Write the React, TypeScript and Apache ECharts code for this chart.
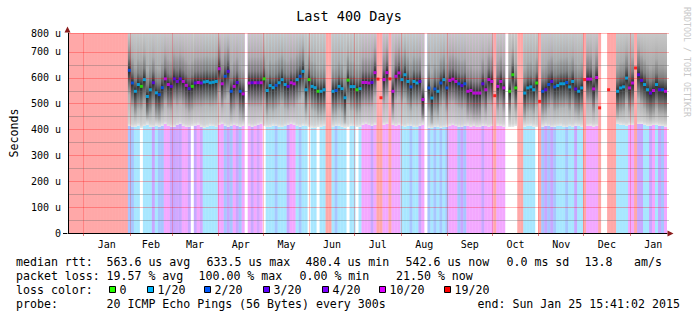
import React, { useEffect, useRef } from 'react';
import * as echarts from 'echarts';

const FONT = '"DejaVu Sans Mono", monospace';

const TITLE = 'Last 400 Days';
const Y_NAME = 'Seconds';
const CREDIT = 'RRDTOOL / TOBI OETIKER';
const RANGE_DAYS = 400;
const START_UTC = Date.UTC(2013, 11, 21, 15, 41, 2);
const MONTH_NAMES = ['Jan', 'Feb', 'Mar', 'Apr', 'May', 'Jun', 'Jul', 'Aug', 'Sep', 'Oct', 'Nov', 'Dec', 'Jan'];

const Y_MAX = 772;
const Y_TICKS = [0, 100, 200, 300, 400, 500, 600, 700, 772];
const Y_TICK_LABELS = ['0', '100 u', '200 u', '300 u', '400 u', '500 u', '600 u', '700 u', '800 u'];
const Y_MINOR = [50, 150, 250, 350, 450, 550, 650];

// loss class per 2-day bucket: g=0, c=1/20, b=2/20, v=3/20, p=4/20, m=10/20, r=19/20, _=no data
const LOSS_CLASS = (
  'rrrrrrrrrrrrrrrrrrrr' +
  'bbccgcccvc' + 'bbmmvvpvmm' + 'vgvmpccccc' + 'mmbvbmvbm_' +
  'mvmpmgcccb' + 'cccvmmcbcc' + 'gccgccrrcb' + 'cccgccgcmm' +
  'mvmrrmmrmm' + 'mcccbccvm_' + 'bcbcbcbmmm' + 'bvbmmmmmvm' +
  'mmrmmm_ggg' + 'rrccccgrbv' + 'bvbcccbccv' + 'ccrmmmmr__' +
  'rrrccccmmr' + 'vvccvmcvbm'
).split('');

// median rtt per bucket (microseconds)
const MEDIAN: (number | null)[] = [
  null, null, null, null, null, null, null, null, null, null,
  null, null, null, null, null, null, null, null, null, null,
  628, 579, 547, 573, 566, 592, 527, 553, 580, 541,
  534, 561, 595, 573, 566, 595, 585, 595, 585, 570,
  557, 566, 579, 581, 579, 583, 585, 580, 582, 585,
  634, 576, 605, 624, 547, 566, 581, 547, 537, null,
  579, 580, 580, 580, 580, 595, 550, 569, 561, 570,
  580, 592, 573, 566, 580, 576, 592, 605, 624, 553,
  592, 566, 561, 547, 547, 553, null, null, 547, 550,
  566, 557, 522, 590, 565, 565, 553, 557, 581, 581,
  579, 581, 619, 594, 522, 592, 619, 595, 547, 605,
  618, 592, 611, 585, 564, 585, 579, 585, 515, null,
  560, 521, 556, 547, 579, 592, 560, 589, 594, 585,
  576, 569, 576, 547, 550, 540, 540, 540, 576, 553,
  592, 585, 530, 566, 585, 560, null, 547, 611, 560,
  null, null, 540, 560, 564, 553, 579, 508, 547, 553,
  573, 585, 564, 569, 576, 576, 581, 564, 585, 556,
  547, 560, 592, 594, 594, 556, 600, 483, null, null,
  553, null, null, 547, 560, 564, 598, 560, 579, 637,
  611, 589, 573, 553, 540, 550, 573, 553, 553, 547,
];

// lower edge of the smoke per bucket (microseconds)
const SMOKE_LOW: (number | null)[] = [
  null, null, null, null, null, null, null, null, null, null,
  null, null, null, null, null, null, null, null, null, null,
  412, 408, 410, 415, 405, 412, 418, 410, 408, 414,
  410, 415, 420, 412, 408, 410, 416, 420, 414, 410,
  408, 412, 415, 418, 410, 406, 410, 414, 412, 408,
  418, 420, 415, 410, 412, 416, 414, 410, 412, null,
  414, 410, 412, 416, 420, 412, 408, 410, 414, 412,
  410, 408, 412, 416, 420, 418, 412, 410, 415, 412,
  410, 406, 404, 408, 410, 412, null, null, 408, 412,
  414, 410, 406, 410, 414, 412, 408, 410, 418, 420,
  416, 412, 418, null, null, 418, 420, null, 416, 414,
  418, 412, 410, 414, 412, 410, 408, 414, 416, null,
  406, 404, 408, 410, 406, 408, 410, 414, 416, 412,
  410, 408, 412, 414, 410, 412, 408, 410, 414, 412,
  410, 412, null, 414, 412, 410, null, 408, 410, 412,
  null, null, 410, 412, 414, 410, 408, null, 410, 414,
  412, 408, 410, 412, 414, 410, 408, 412, 410, 414,
  412, 410, null, 412, 414, 410, 412, null, null, null,
  null, null, null, 420, 418, 416, 414, 418, 416, null,
  420, 422, 418, 414, 412, 416, 418, 414, 412, 410,
];

const LOSS_KEYS = ['g', 'c', 'b', 'v', 'p', 'm', 'r'];
const LOSS_COLORS = ['#26ff00', '#00b8ff', '#0059ff', '#5e00ff', '#7e00ff', '#dd00ff', '#ff0000'];
const LOSS_LABELS = ['0', '1/20', '2/20', '3/20', '4/20', '10/20', '19/20'];

const RTT_LABEL = 'median rtt:';
const RTT_STATS = ['563.6 us avg', '633.5 us max', '480.4 us min', '542.6 us now', '0.0 ms sd', '13.8', 'am/s'];
const LOSS_LABEL = 'packet loss:';
const LOSS_STATS = ['19.57 % avg', '100.00 % max', '0.00 % min', '21.50 % now'];
const COLOR_LABEL = 'loss color:';
const PROBE_LABEL = 'probe:';
const PROBE_TEXT = '20 ICMP Echo Pings (56 Bytes) every 300s';
const END_TEXT = 'end: Sun Jan 25 15:41:02 2015';

const DAY_MS = 86400000;
const monthStart = (k: number) => (Date.UTC(2014, k, 1) - START_UTC) / DAY_MS;
const MONTH_STARTS = MONTH_NAMES.map((_, k) => monthStart(k));
const MONTH_MIDS = MONTH_NAMES.map((_, k) => (monthStart(k) + monthStart(k + 1)) / 2);

function rgba(hex: string, a: number) {
  const n = parseInt(hex.slice(1), 16);
  return `rgba(${(n >> 16) & 255},${(n >> 8) & 255},${n & 255},${a})`;
}
const colorOf = (c: string) => LOSS_COLORS[LOSS_KEYS.indexOf(c)];

function gridLineSeries(values: number[], color: string) {
  return {
    type: 'custom', xAxisIndex: 0, yAxisIndex: 0, silent: true, z: 4, clip: false,
    data: values.map((v) => [0, v]),
    renderItem: (params: any, api: any) => {
      const cs = params.coordSys;
      const y = Math.round(api.coord([0, api.value(1)])[1]) + 0.5;
      return {
        type: 'line', silent: true,
        shape: { x1: cs.x, y1: y, x2: cs.x + cs.width + 2, y2: y },
        style: { stroke: color, lineWidth: 1, fill: null },
      };
    },
  };
}

function buildOption() {
  const cats = LOSS_CLASS.map((_, i) => String(i));

  const bgData = LOSS_CLASS.map((c) => {
    if (c === '_' || c === 'g') return null;
    return { value: Y_MAX, itemStyle: { color: rgba(colorOf(c), 0.34) } };
  });

  const off = (v: number) => Math.min(1, Math.max(0, (Y_MAX - v) / Y_MAX));
  const smokeData = SMOKE_LOW.map((low, i) => {
    const med = MEDIAN[i];
    if (low == null || med == null) return null;
    const rel: [number, string][] = [
      [med + 100, '#ababab'], [med + 45, '#7e7e7e'], [med + 16, '#4a4a4a'], [med, '#282828'],
      [med - 20, '#464646'], [med - 55, '#7a7a7a'], [med - 95, '#b2b2b2'],
    ];
    const pts: [number, string][] = [[Y_MAX, '#c8c8c8']];
    rel.forEach((p) => { if (p[0] < Y_MAX && p[0] > low + 14) pts.push(p); });
    pts.push([low + 12, '#d3d3d3'], [low, '#e8e8e8']);
    const stops = pts.map(([v, c]) => ({ offset: off(v), color: c }));
    stops.sort((a, b) => a.offset - b.offset);
    stops.push({ offset: Math.min(1, off(low) + 0.0005), color: 'rgba(255,255,255,0)' });
    stops.push({ offset: 1, color: 'rgba(255,255,255,0)' });
    return { value: Y_MAX, itemStyle: { color: new echarts.graphic.LinearGradient(0, 0, 0, 1, stops) } };
  });

  const medianData = MEDIAN.map((m, i) =>
    m == null ? null : { value: [i, m], itemStyle: { color: colorOf(LOSS_CLASS[i]) } }
  ).filter(Boolean);

  const legendX = [109, 147, 204, 263, 322, 379, 444];
  const textStyle = (text: string, x: number, y: number, extra: any = {}) => ({
    type: 'text', x, y, silent: true,
    style: { text, fill: '#000', fontFamily: FONT, fontSize: 11.6, verticalAlign: 'middle', align: 'left', ...extra },
  });

  const rowY = [261.5, 275.5, 289.5, 303.5];
  const graphics: any[] = [
    { type: 'text', x: 349, y: 16, silent: true, style: { text: TITLE, fill: '#000', fontFamily: FONT, fontSize: 13.5, align: 'center', verticalAlign: 'middle' } },
    { type: 'text', x: 686.5, y: 62, rotation: -Math.PI / 2, silent: true, style: { text: CREDIT, fill: '#c8c8c8', fontFamily: FONT, fontSize: 8.3, align: 'center', verticalAlign: 'middle' } },
    { type: 'line', silent: true, z: 10, shape: { x1: 63, y1: 233.5, x2: 67, y2: 233.5 }, style: { stroke: '#000', lineWidth: 1 } },
    { type: 'polygon', silent: true, z: 10, shape: { points: [[64.5, 32.5], [67.5, 26.5], [70.5, 32.5]] }, style: { fill: '#8b1c1c' } },
    { type: 'polygon', silent: true, z: 10, shape: { points: [[667.5, 230.5], [673.5, 233.5], [667.5, 236.5]] }, style: { fill: '#8b1c1c' } },
    textStyle(RTT_LABEL, 16, rowY[0]),
    textStyle(LOSS_LABEL, 16, rowY[1]),
    textStyle(COLOR_LABEL, 16, rowY[2]),
    textStyle(PROBE_LABEL, 16, rowY[3]),
    textStyle(PROBE_TEXT, 106.5, rowY[3]),
    textStyle(END_TEXT, 477.5, rowY[3]),
  ];
  const rttX = [106.5, 206.5, 305.5, 405.5, 506.5, 584.5, 634];
  RTT_STATS.forEach((t, k) => graphics.push(textStyle(t, rttX[k], rowY[0])));
  const lossX = [106.5, 198.5, 299.5, 396];
  LOSS_STATS.forEach((t, k) => graphics.push(textStyle(t, lossX[k], rowY[1])));
  LOSS_LABELS.forEach((t, k) => {
    graphics.push({
      type: 'rect', silent: true,
      shape: { x: legendX[k] + 0.5, y: rowY[2] - 3, width: 6, height: 6 },
      style: { fill: LOSS_COLORS[k], stroke: '#000', lineWidth: 1 },
    });
    graphics.push(textStyle(t, legendX[k] + 10.5, rowY[2]));
  });

  return {
    animation: false,
    backgroundColor: '#fff',
    grid: { left: 67, top: 33, width: 600, height: 200, containLabel: false },
    xAxis: [
      {
        type: 'category', data: cats, position: 'top', show: false, boundaryGap: true,
      },
      {
        type: 'value', min: 0, max: RANGE_DAYS, position: 'bottom', z: 5,
        axisLine: { show: true, onZero: false, lineStyle: { color: '#000', width: 1 } },
        axisTick: { show: true, customValues: MONTH_STARTS, length: 3, lineStyle: { color: 'rgba(200,0,0,0.5)' } },
        axisLabel: {
          customValues: MONTH_MIDS, margin: 6, color: '#000', fontFamily: FONT, fontSize: 10,
          formatter: (v: number) => {
            const k = MONTH_MIDS.findIndex((m) => Math.abs(m - v) < 0.01);
            return k >= 0 ? MONTH_NAMES[k] : '';
          },
        },
        splitLine: { show: true, lineStyle: { color: 'rgba(255,0,0,0.22)', width: 1 } },
      },
    ],
    yAxis: [
      {
        type: 'value', min: 0, max: Y_MAX, z: 5,
        name: Y_NAME, nameLocation: 'middle', nameRotate: 90, nameGap: 47,
        nameTextStyle: { color: '#000', fontFamily: FONT, fontSize: 11.6 },
        axisLine: { show: true, lineStyle: { color: '#000', width: 1 } },
        axisTick: { show: false, customValues: Y_TICKS },
        axisLabel: {
          customValues: Y_TICKS, margin: 7, color: '#000', fontFamily: FONT, fontSize: 10,
          formatter: (v: number) => {
            const k = Y_TICKS.findIndex((t) => Math.abs(t - v) < 0.01);
            return k >= 0 ? Y_TICK_LABELS[k] : '';
          },
        },
        splitLine: { show: false },
      },
    ],
    series: [
      {
        type: 'bar', name: 'loss', xAxisIndex: 0, yAxisIndex: 0, data: bgData,
        barWidth: '100%', barGap: '-100%', barCategoryGap: 0, silent: true,
      },
      {
        type: 'bar', name: 'smoke', xAxisIndex: 0, yAxisIndex: 0, data: smokeData,
        barWidth: '100%', barGap: '-100%', barCategoryGap: 0, silent: true,
      },
      gridLineSeries(Y_MINOR, 'rgba(100,100,100,0.35)'),
      gridLineSeries(Y_TICKS, 'rgba(255,0,0,0.28)'),
      {
        type: 'scatter', name: 'median', xAxisIndex: 0, yAxisIndex: 0, data: medianData,
        symbol: 'rect', symbolSize: 3, silent: true, z: 5,
      },
    ],
    graphic: graphics,
  };
}

export default function App() {
  const ref = useRef<HTMLDivElement>(null);
  useEffect(() => {
    if (!ref.current) return;
    const chart = echarts.init(ref.current, undefined, { renderer: 'svg' });
    chart.setOption(buildOption() as any);
    return () => chart.dispose();
  }, []);
  return (
    <div
      ref={ref}
      style={{ position: 'absolute', left: 0, top: 0, width: 697, height: 321, background: '#fff' }}
    />
  );
}
